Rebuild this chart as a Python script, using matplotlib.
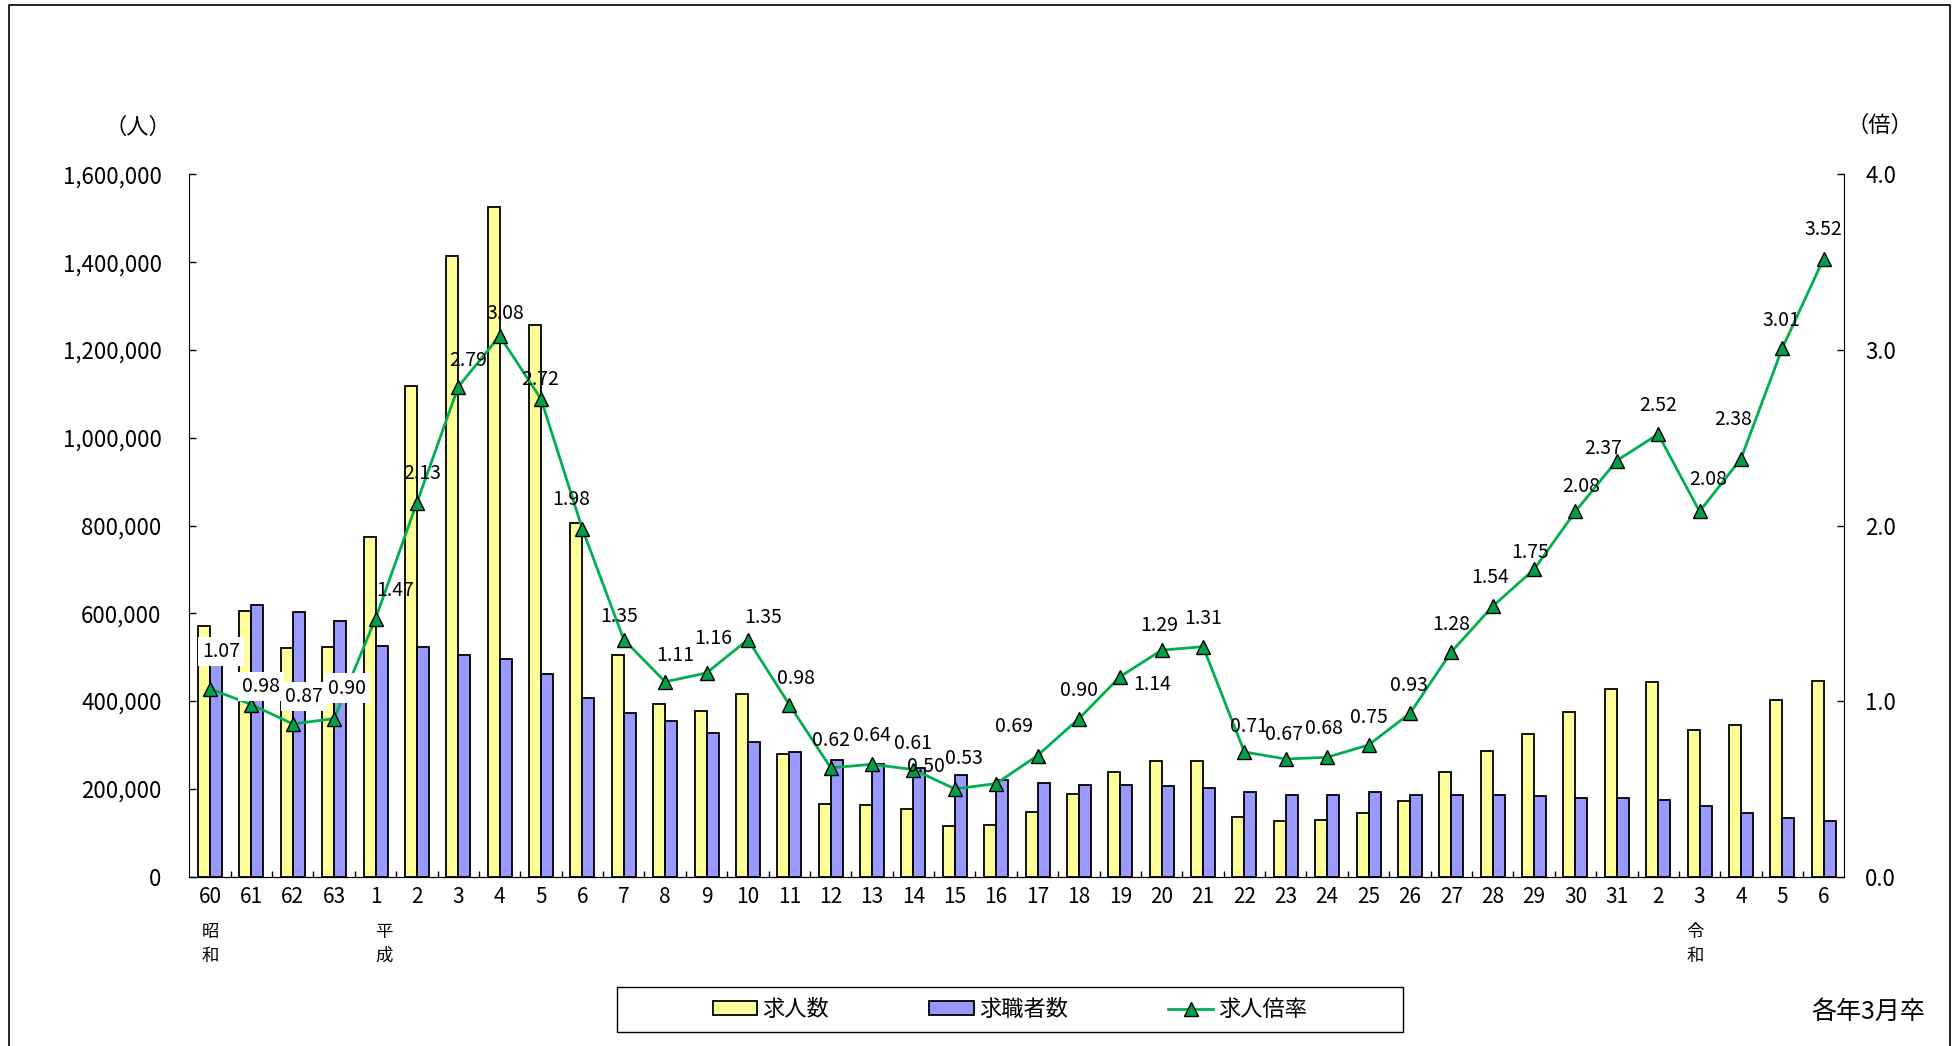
import numpy as np
import matplotlib
matplotlib.use("Agg")
import matplotlib.pyplot as plt
from matplotlib.lines import Line2D
from matplotlib.patches import Patch, Rectangle
from matplotlib.ticker import FuncFormatter, MultipleLocator

plt.rcParams['font.family'] = ['Noto Sans CJK JP', 'DejaVu Sans']

# ---- data ----
categories = ['60', '61', '62', '63',
              '1', '2', '3', '4', '5', '6', '7', '8', '9', '10',
              '11', '12', '13', '14', '15', '16', '17', '18', '19', '20',
              '21', '22', '23', '24', '25', '26', '27', '28', '29', '30', '31',
              '2', '3', '4', '5', '6']

# 求人数 (job offers)
offers = [571000, 606000, 521000, 523000,
          773000, 1118000, 1413000, 1526000, 1257000, 805000, 504000, 393000, 378000, 415000,
          279000, 166000, 164000, 153000, 116000, 117000, 148000, 189000, 238000, 264000,
          264000, 136000, 126000, 128000, 146000, 172000, 238000, 286000, 324000, 376000, 427000,
          444000, 335000, 345000, 403000, 445000]

# 求職者数 (job seekers)
seekers = [533000, 619000, 603000, 582000,
           526000, 523000, 505000, 496000, 461000, 406000, 372000, 354000, 327000, 307000,
           284000, 266000, 257000, 248000, 232000, 220000, 213000, 208000, 209000, 206000,
           203000, 192000, 187000, 187000, 193000, 186000, 187000, 186000, 184000, 180000, 179000,
           175000, 162000, 146000, 134000, 126000]

# 求人倍率 (ratio)
ratio = [1.07, 0.98, 0.87, 0.90,
         1.47, 2.13, 2.79, 3.08, 2.72, 1.98, 1.35, 1.11, 1.16, 1.35,
         0.98, 0.62, 0.64, 0.61, 0.50, 0.53, 0.69, 0.90, 1.14, 1.29,
         1.31, 0.71, 0.67, 0.68, 0.75, 0.93, 1.28, 1.54, 1.75, 2.08, 2.37,
         2.52, 2.08, 2.38, 3.01, 3.52]

# era markers: (category index, label, x offset in points)
eras = [(0, '昭和', 0), (4, '平成', 6), (36, '令和', -3)]

# label offsets in points (dx, dy) relative to each marker
label_offsets = [(8, 27), (7, 13), (8, 20), (9, 22),
                 (14, 20), (4, 21), (7, 19), (4, 16), (-1, 14), (-8, 21), (-3, 17), (7, 19), (5, 25), (11, 16),
                 (5, 19), (0, 20), (0, 21), (0, 19), (-21, 16), (-23, 18), (-17, 21), (0, 20), (23, -6), (-2, 18),
                 (0, 20), (3, 18), (-1, 18), (-2, 21), (0, 20), (-1, 20), (0, 20), (-2, 21), (-3, 12), (4, 18), (-10, 9),
                 (0, 21), (6, 23), (-6, 28), (-1, 20), (0, 21)]
boxed = {0, 1, 2, 3}

YELLOW = '#FFFF99'
BLUE = '#9999FF'
GREEN = '#00B050'
MARKER_GREEN = '#00A04A'

# ---- figure ----
fig = plt.figure(figsize=(19.54, 10.46), dpi=100)
ax = fig.add_axes([0.0969, 0.1619, 0.847, 0.6714])
ax2 = ax.twinx()

x = np.arange(len(categories))
w = 0.29
ax.bar(x - w / 2, offers, width=w, color=YELLOW, edgecolor='black', linewidth=1.3, zorder=2)
ax.bar(x + w / 2, seekers, width=w, color=BLUE, edgecolor='black', linewidth=1.3, zorder=2)

ax.set_xlim(-0.5, len(categories) - 0.5)
ax.set_ylim(0, 1600000)
ax.yaxis.set_major_locator(MultipleLocator(200000))
ax.yaxis.set_major_formatter(FuncFormatter(lambda v, p: f"{int(v):,}"))
ax.tick_params(axis='y', direction='in', length=5, width=1, pad=20, labelsize=16)
ax.set_xticks(x)
ax.set_xticklabels(categories)
ax.set_xticks(x[:-1] + 0.5, minor=True)
ax.tick_params(axis='x', which='major', length=0, pad=7, labelsize=15)
ax.tick_params(axis='x', which='minor', direction='in', length=4, width=1)
ax.spines['top'].set_visible(False)
ax.spines['right'].set_visible(False)

ax2.plot(x, ratio, color=GREEN, lw=2, marker='^', ms=10, mfc=MARKER_GREEN,
         mec='black', mew=1, zorder=3)
ax2.set_ylim(0, 4.0)
ax2.yaxis.set_major_locator(MultipleLocator(1.0))
ax2.yaxis.set_major_formatter(FuncFormatter(lambda v, p: f"{v:.1f}"))
ax2.tick_params(axis='y', direction='in', length=5, width=1, pad=15, labelsize=16)
ax2.spines['top'].set_visible(False)
ax2.spines['left'].set_visible(False)

for i, r in enumerate(ratio):
    dx, dy = label_offsets[i]
    bbox = dict(facecolor='white', edgecolor='none', pad=3) if i in boxed else None
    ax2.annotate(f"{r:.2f}", xy=(i, r), xytext=(dx, dy), textcoords='offset points',
                 ha='center', va='center', fontsize=14, bbox=bbox,
                 zorder=5 if i == 2 else 4)

for idx, name, dx in eras:
    for k, ch in enumerate(name):
        ax.annotate(ch, xy=(idx, 0), xycoords=('data', 'axes fraction'),
                    xytext=(dx, -40 - 17 * k), textcoords='offset points',
                    ha='center', va='center', fontsize=12.5, annotation_clip=False)

fig.text(0.0706, 0.878, '（人）', ha='center', va='center', fontsize=16)
fig.text(0.962, 0.880, '（倍）', ha='center', va='center', fontsize=16)
fig.text(0.985, 0.033, '各年3月卒', ha='right', va='center', fontsize=18)

# legend with a hand-drawn frame
handles = [Patch(facecolor=YELLOW, edgecolor='black', linewidth=1.3),
           Patch(facecolor=BLUE, edgecolor='black', linewidth=1.3),
           Line2D([], [], color=GREEN, lw=2, marker='^', ms=10, mfc=MARKER_GREEN, mec='black', mew=1)]
fig.add_artist(Rectangle((617 / 1954, 1 - 1032 / 1046), 786 / 1954, 45 / 1046,
                         transform=fig.transFigure, facecolor='white', edgecolor='black', lw=1))
fig.legend(handles, ['求人数', '求職者数', '求人倍率'], loc='center', bbox_to_anchor=(0.5169, 0.035),
           ncol=3, frameon=False, fontsize=16, handlelength=2.0, handleheight=0.55,
           handletextpad=0.25, columnspacing=4.5)

# outer frame (left, top, right)
fig.add_artist(Line2D([0.0046, 0.0046, 0.998, 0.998], [0.0, 0.9952, 0.9952, 0.0],
                      transform=fig.transFigure, color='black', lw=1.2))

fig.savefig('out.png', dpi=100)
